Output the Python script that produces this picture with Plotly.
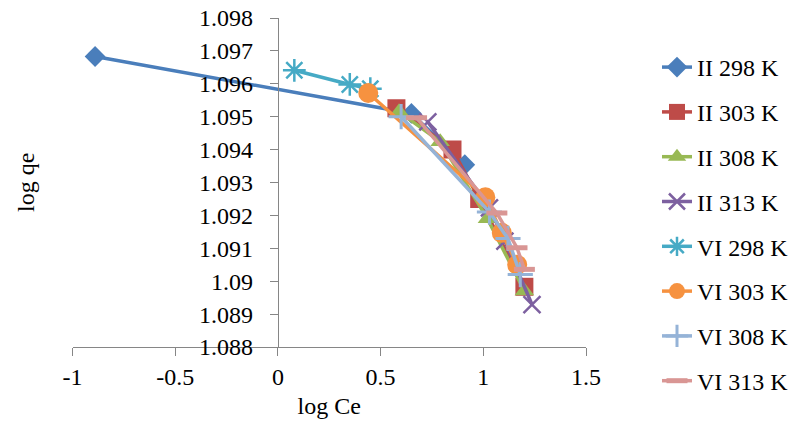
import plotly.graph_objects as go

# Series data (log Ce, log qe)
names = ["II 298 K", "II 303 K", "II 308 K", "II 313 K",
         "VI 298 K", "VI 303 K", "VI 308 K", "VI 313 K"]
x_ii298 = [-0.89, 0.65, 0.91]
y_ii298 = [1.09683, 1.09510, 1.09354]
x_ii303 = [0.577, 0.85, 0.98, 1.20]
y_ii303 = [1.09526, 1.09400, 1.09250, 1.08983]
x_ii308 = [0.59, 0.79, 1.02, 1.20]
y_ii308 = [1.09515, 1.09424, 1.09190, 1.08970]
x_ii313 = [0.73, 1.03, 1.105, 1.237]
y_ii313 = [1.09484, 1.09223, 1.09122, 1.08929]
x_vi298 = [0.08, 0.35, 0.45]
y_vi298 = [1.09641, 1.09598, 1.09585]
x_vi303 = [0.44, 1.01, 1.09, 1.165]
y_vi303 = [1.09572, 1.09255, 1.09147, 1.09050]
x_vi308 = [0.60, 1.03, 1.12, 1.18]
y_vi308 = [1.09500, 1.09210, 1.09130, 1.09020]
x_vi313 = [0.675, 1.066, 1.164, 1.20]
y_vi313 = [1.09497, 1.09207, 1.09102, 1.09036]

x_ticks = [-1, -0.5, 0, 0.5, 1, 1.5]
x_tick_labels = ["-1", "-0.5", "0", "0.5", "1", "1.5"]
y_ticks = [1.088, 1.089, 1.09, 1.091, 1.092, 1.093, 1.094, 1.095, 1.096, 1.097, 1.098]
y_tick_labels = ["1.088", "1.089", "1.09", "1.091", "1.092", "1.093", "1.094",
                 "1.095", "1.096", "1.097", "1.098"]

xs = [x_ii298, x_ii303, x_ii308, x_ii313, x_vi298, x_vi303, x_vi308, x_vi313]
ys = [y_ii298, y_ii303, y_ii308, y_ii313, y_vi298, y_vi303, y_vi308, y_vi313]
colors = ["#4A7EBB", "#BE4B48", "#98B954", "#7D60A0",
          "#46AAC5", "#F69240", "#95B3D7", "#D99694"]
symbols = ["diamond", "square", "triangle-up", "x-thin-open",
           "asterisk-open", "circle", "cross-thin-open", "line-ew-open"]
sizes = [16, 18, 17, 17, 19, 20, 18, 15]
mlw = [0, 0, 0, 2.5, 2.5, 0, 3, 5]

FONT = "Liberation Serif, Tinos, Times New Roman, serif"
FS = 24
fig = go.Figure()
for i in range(8):
    fig.add_trace(go.Scatter(
        x=xs[i], y=ys[i], name=names[i], mode="lines+markers",
        legendgroup=str(i),
        line=dict(color=colors[i], width=3.5),
        marker=dict(symbol=symbols[i], size=sizes[i], color=colors[i],
                    line=dict(color=colors[i], width=mlw[i])),
    ))

W, H = 802, 434
x0px, x1px = 72.5, 586
ytop, ybot = 18, 347
xdom = [x0px / W, x1px / W]
ydom = [(H - ybot) / H, (H - ytop) / H]
zero_frac = xdom[0] + (0 - (-1)) / 2.5 * (xdom[1] - xdom[0])

fig.update_layout(
    width=W, height=H,
    margin=dict(l=0, r=0, t=0, b=0, autoexpand=False),
    paper_bgcolor="white", plot_bgcolor="white",
    font=dict(family=FONT, size=FS, color="black"),
    showlegend=True,
    legend=dict(x=657 / W, y=1 - 45 / H, xanchor="left", yanchor="top",
                tracegroupgap=10.6, font=dict(size=FS, family=FONT, color="black"),
                bgcolor="rgba(0,0,0,0)"),
    xaxis=dict(domain=xdom, range=[-1, 1.5], tickvals=x_ticks, ticktext=x_tick_labels,
               showgrid=False, zeroline=False, showline=True, linecolor="#868686",
               linewidth=1, ticks="outside", ticklen=8, tickcolor="#868686",
               automargin=False, anchor="y",
               tickfont=dict(size=FS, family=FONT, color="black"),
               title=dict(text="log Ce", standoff=8,
                          font=dict(size=FS, family=FONT, color="black"))),
    yaxis=dict(domain=ydom, range=[1.088, 1.098], tickvals=y_ticks, ticktext=y_tick_labels,
               showgrid=False, zeroline=False, showline=True, linecolor="#868686",
               linewidth=1, ticks="outside", ticklen=8, tickcolor="#868686",
               ticklabelstandoff=12,
               automargin=False, anchor="free", position=zero_frac, title=None,
               tickfont=dict(size=FS, family=FONT, color="black")),
    annotations=[dict(text="log qe", x=26 / W, y=(H - 183) / H, xref="paper", yref="paper",
                      xanchor="center", yanchor="middle",
                      textangle=-90, showarrow=False,
                      font=dict(size=FS, family=FONT, color="black"))],
)

fig.write_html("out.html")
